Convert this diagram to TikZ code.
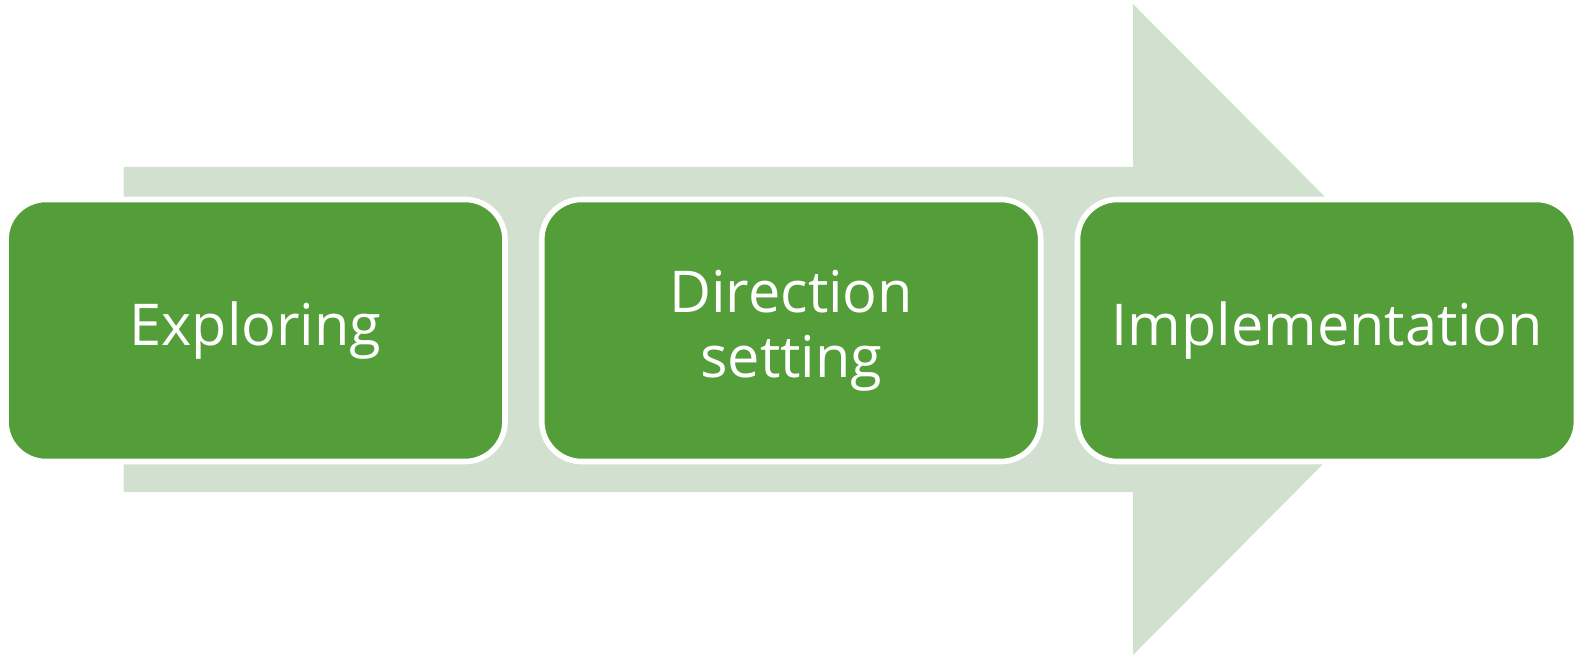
\documentclass[tikz,border=0pt]{standalone}
\usepackage{fontspec}
\newfontfamily\stagefont{Open Sans}
\usepackage{tikz}
\usetikzlibrary{positioning}
\usepackage{xcolor}
\definecolor{stagegreen}{HTML}{549E39}
\definecolor{arrowgreen}{HTML}{D2E0CF}

\begin{document}
\begin{tikzpicture}[
  x=0.025cm, y=-0.025cm,
  stage/.style={draw=white, line width=0.14cm, fill=stagegreen,
    rounded corners=1cm, minimum width=12.47cm, minimum height=6.55cm,
    inner sep=0pt, text=white, align=center,
    font=\stagefont\fontsize{41}{46}\selectfont}
]
  \useasboundingbox (0,0) rectangle (1575,656);
  % Background arrow
  \fill[arrowgreen] (123.5,167) -- (1133,167) -- (1133,4) -- (1457,329.5)
    -- (1133,655) -- (1133,492) -- (123.5,492) -- cycle;
  % Stages
  \node[stage] (explore) at (255.5,330.5) {Exploring};
  \node[stage, right=0.78cm of explore] (direct) {Direction\\setting};
  \node[stage, right=0.78cm of direct] (implement) {Implementation};
\end{tikzpicture}
\end{document}
